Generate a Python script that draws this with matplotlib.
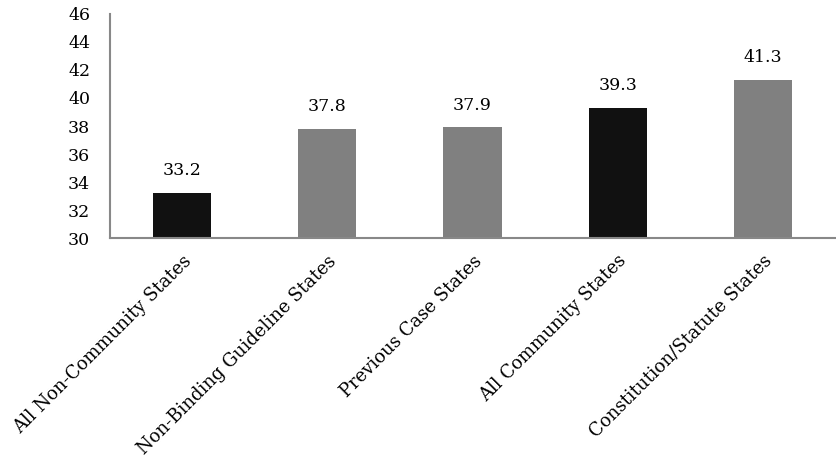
import matplotlib
matplotlib.use("Agg")
import matplotlib.pyplot as plt

categories = ["All Non-Community States", "Non-Binding Guideline States",
              "Previous Case States", "All Community States",
              "Constitution/Statute States"]
values = [33.2, 37.8, 37.9, 39.3, 41.3]
colors = ["#111111", "#808080", "#808080", "#111111", "#808080"]
yticks = list(range(30, 47, 2))

plt.rcParams["font.family"] = ["DejaVu Serif"]

fig = plt.figure(figsize=(8.37, 4.65), dpi=100)
ax = fig.add_axes([0.131, 0.488, 0.867, 0.482])

x = range(len(categories))
bars = ax.bar(x, values, width=0.4, color=colors)
for xi, v in zip(x, values):
    ax.annotate(f"{v:.1f}", (xi, v), xytext=(0, 10), textcoords="offset points",
                ha="center", va="bottom", fontsize=12.5)

ax.set_xlim(-0.5, len(categories) - 0.5)
ax.set_ylim(30, 46)
ax.set_yticks(yticks)
ax.set_xticks(list(x))
ax.set_xticklabels(categories, rotation=45, ha="right", rotation_mode="anchor",
                   fontsize=13)
ax.tick_params(axis="both", length=0)
ax.tick_params(axis="y", pad=14, labelsize=12.5)
ax.tick_params(axis="x", pad=10)
for s in ["top", "right"]:
    ax.spines[s].set_visible(False)
for s in ["left", "bottom"]:
    ax.spines[s].set_color("#888888")
    ax.spines[s].set_linewidth(1.5)

fig.savefig("out.png", dpi=100)
